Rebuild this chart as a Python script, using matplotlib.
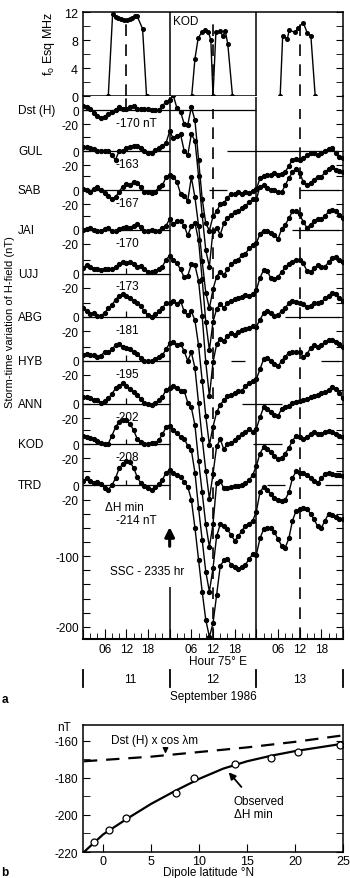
import numpy as np
import matplotlib.pyplot as plt

plt.rcParams['font.family'] = ['Liberation Sans', 'DejaVu Sans']
plt.rcParams['axes.unicode_minus'] = False

# ---------------- data ----------------
# foEsq at KOD (hour from 00 h on 11 Sept, MHz)
fo_h11 = [7.0, 8.2, 9.0, 9.8, 10.6, 11.4, 12.2, 13.0, 13.7, 14.4, 15.0, 16.5, 17.6]
fo_v11 = [0, 11.7, 11.3, 11.2, 11.0, 10.9, 10.9, 11.0, 11.2, 11.4, 11.4, 9.6, 0]
fo_h12 = [30.1, 31.0, 31.9, 32.9, 33.8, 34.7, 35.4, 36.0, 36.8, 37.9, 38.7, 39.4, 40.1, 41.4]
fo_v12 = [0, 5.3, 8.3, 9.1, 9.4, 9.2, 8.0, 0, 9.1, 9.3, 8.6, 9.3, 7.4, 0]
fo_h13 = [54.6, 55.3, 56.6, 57.1, 58.7, 59.6, 61.0, 62.1, 63.1, 64.3]
fo_v13 = [0, 8.6, 8.2, 9.4, 9.1, 9.7, 10.5, 9.0, 8.6, 0]

# storm-time H variation (nT), hourly 11 Sept 00 h .. 14 Sept 00 h
stations = ['Dst (H)', 'GUL', 'SAB', 'JAI', 'UJJ', 'ABG', 'HYB', 'ANN', 'KOD', 'TRD']
min_labels = ['-170 nT', '-163', '-167', '-170', '-173', '-181', '-195', '-202', '-208', '']

dst = [6, 5, 2, -4, -8, -11, -9, -5, -2, 0, 4, 2, 2, 4, 6, 1, 1, 2, 1, 0, 0, 0, 6, 12,
       14, 21, 3, -2, -19, -21, 4, -14, -70, -125, -160, -170,
       -150, -143, -133, -131, -124, -118, -119, -116, -118, -116, -117, -114,
       -112, -96, -93, -92, -92, -89, -91, -90, -87, -79, -70, -69,
       -70, -68, -64, -60, -61, -63, -61, -58, -55, -54, -60, -66, -68]
gul = [6, 6, 5, 3, 1, 1, 1, 0, -6, -12, 0, 1, 4, 6, 8, 8, 5, 1, -2, -2, 2, 4, 7, 12,
       28, 18, 22, 24, 1, -6, 24, 15, -35, -90, -140, -163,
       -112, -108, -118, -102, -94, -90, -86, -85, -80, -77, -72, -68,
       -68, -50, -48, -52, -55, -55, -58, -58, -48, -38, -30, -25,
       -31, -43, -48, -45, -40, -36, -36, -30, -25, -22, -26, -28, -29]
sab = [2, 0, -2, 2, 5, 0, -4, -8, -13, -10, -2, 5, 8, 7, 12, 10, 4, -2, -3, -4, -2, 4, 7, 18,
       22, 19, 12, -5, -8, -15, 18, -10, -50, -100, -145, -167,
       -140, -122, -115, -120, -112, -105, -100, -98, -92, -90, -82, -78,
       -75, -62, -57, -58, -61, -63, -69, -55, -49, -40, -30, -30,
       -34, -45, -53, -49, -44, -41, -41, -37, -30, -28, -30, -35, -40]
jai = [0, 1, 2, 0, -2, -1, 1, 2, -1, -2, 1, 3, 4, 3, 6, 8, 4, -1, -2, 0, -1, -1, 2, 6,
       15, 8, 12, 12, 6, -8, 5, 10, -15, -70, -130, -170,
       -130, -112, -105, -110, -104, -100, -98, -96, -95, -92, -94, -90,
       -85, -68, -57, -58, -68, -70, -66, -60, -53, -48, -45, -43,
       -42, -47, -58, -60, -54, -50, -52, -52, -46, -40, -38, -42, -45]
ujj = [8, 12, 9, 6, 7, 5, 6, 7, 6, 9, 14, 17, 15, 16, 14, 9, 11, 7, 3, 2, 4, 6, 10, 20,
       25, 20, 15, 6, -5, -3, 13, 12, -10, -60, -125, -173,
       -125, -100, -92, -95, -88, -84, -86, -82, -80, -78, -76, -74,
       -75, -65, -56, -53, -56, -60, -58, -53, -48, -42, -39, -40,
       -41, -43, -47, -45, -41, -41, -40, -35, -31, -27, -28, -34, -39]
abg = [12, 9, 4, 5, 1, 1, 6, 12, 17, 24, 30, 32, 30, 26, 23, 20, 15, 8, 2, 0, 4, 8, 12, 20,
       20, 22, 18, 23, 8, 2, 8, -5, -40, -90, -140, -181,
       -155, -135, -124, -118, -112, -110, -108, -105, -104, -98, -94, -91,
       -88, -74, -60, -58, -62, -66, -70, -62, -56, -51, -50, -50,
       -50, -56, -53, -44, -40, -43, -40, -36, -33, -32, -35, -39, -42]
hyb = [8, 10, 8, 8, 5, 7, 13, 12, 16, 22, 24, 20, 18, 16, 13, 10, 4, 0, -1, -1, 2, 5, 8, 16,
       25, 26, 22, 24, 14, 0, 12, -10, -60, -110, -155, -195,
       -160, -121, -111, -125, -118, -116, -112, -107, -104, -100, -97, -100,
       -96, -80, -66, -68, -72, -76, -78, -68, -65, -64, -60, -58,
       -57, -55, -54, -51, -50, -48, -46, -44, -41, -37, -40, -46, -53]
ann = [10, 10, 8, 6, 5, 2, 4, 8, 14, 22, 26, 29, 26, 21, 17, 12, 7, 2, 0, -1, 1, 5, 10, 20,
       22, 26, 22, 18, 19, 2, -5, -30, -80, -125, -170, -202,
       -170, -112, -109, -119, -119, -118, -116, -116, -114, -112, -108, -100,
       -88, -70, -61, -63, -68, -74, -78, -76, -70, -62, -52, -45,
       -46, -49, -47, -42, -40, -43, -43, -40, -38, -39, -42, -45, -46]
kod = [12, 11, 9, 7, 4, 2, 0, 1, 12, 24, 32, 35, 34, 29, 20, 8, 3, 0, 0, 2, 2, 6, 14, 24,
       26, 20, 16, 10, 8, -2, -8, -40, -90, -135, -180, -208,
       -175, -130, -113, -115, -120, -128, -136, -130, -122, -115, -112, -108,
       -95, -68, -60, -65, -70, -76, -79, -80, -78, -68, -48, -38,
       -40, -40, -44, -48, -52, -55, -48, -42, -40, -42, -43, -44, -45]
trd = [6, 10, 6, 4, 5, 2, -4, -6, 0, 10, 24, 30, 34, 33, 25, 12, 3, -1, -4, -6, -3, 2, 8, 18,
       22, 17, 15, 12, 5, -2, -20, -60, -105, -150, -190, -214,
       -195, -155, -114, -106, -104, -112, -116, -118, -115, -112, -104, -97,
       -98, -75, -62, -60, -60, -66, -76, -85, -88, -75, -50, -36,
       -34, -32, -33, -40, -48, -58, -60, -50, -40, -42, -45, -47, -48]
series = [dst, gul, sab, jai, ujj, abg, hyb, ann, kod, trd]

# zero-level segments drawn for each station (hours)
zero_segments = [[(0, 48)], [(0, 24), (40, 71)], [(0, 24), (35, 40), (60, 71)],
                 [(0, 24), (58, 71)], [(0, 24)], [(0, 24), (56, 71)],
                 [(0, 24), (41, 45), (66, 71)], [(0, 24), (44, 55)],
                 [(0, 24), (47, 55)], [(0, 24), (51, 56), (67, 71)]]

# panel b: minimum dH versus dipole latitude
lat_obs = [-1.0, 0.6, 2.4, 7.6, 9.5, 13.7, 17.5, 20.3, 24.7]
dh_obs = [-214.6, -208, -201.6, -188, -180, -172.6, -169, -166, -162]
lat_fit = [-2, 0, 2.5, 5, 7.5, 10, 12.5, 15, 17.5, 20, 22.5, 25]
dh_fit = [-220, -210.5, -202, -194, -187, -180.5, -175, -171, -168, -165.5, -163.5, -161.5]
lat_dst = [-2, 5, 10, 15, 20, 25]
dh_dst = [-171, -168.5, -166, -163.5, -160.5, -157]

# ---------------- layout ----------------
W, H = 350, 879
fig = plt.figure(figsize=(W / 100, H / 100), dpi=100)


def box(l, t, r, b):
    return [l / W, 1 - b / H, (r - l) / W, (b - t) / H]


offsets = [530, 472, 417, 361, 299, 238, 176, 115, 58, 0]
dash = (0, (7, 5))
fs = 8.5

# ---- foEsq panel ----
ax_fo = fig.add_axes(box(83, 13, 343, 97))
for hh, vv in [(fo_h11, fo_v11), (fo_h12, fo_v12), (fo_h13, fo_v13)]:
    ax_fo.plot(hh, vv, '-o', color='k', lw=1.0, ms=2.6)
ax_fo.set_xlim(0, 72)
ax_fo.set_ylim(0, 12)
ax_fo.axvline(24, color='k', lw=1.1)
ax_fo.axvline(48, color='k', lw=1.1)
for hx in [12, 36, 60]:
    ax_fo.axvline(hx, ymin=0.0, ymax=0.9, color='k', lw=1.2, ls=dash)
ax_fo.axhline(0, xmin=0, xmax=48 / 72, color='k', lw=1.1)
ax_fo.spines['bottom'].set_visible(False)
for s in ['left', 'right', 'top']:
    ax_fo.spines[s].set_linewidth(1.1)
ax_fo.set_xticks([])
ax_fo.set_yticks([0, 4, 8, 12])
ax_fo.set_yticks([2, 6, 10], minor=True)
ax_fo.tick_params(axis='y', which='both', direction='in', left=True, right=True,
                  length=5, labelsize=9)
ax_fo.set_ylabel('f$_\\mathregular{o}$ Esq MHz', fontsize=9)
ax_fo.yaxis.set_label_coords(-0.10, 0.63)
ax_fo.text(28.3, 10.7, 'KOD', fontsize=fs, ha='center', va='center')

# ---- main storm-time panel ----
ax = fig.add_axes(box(83, 97, 343, 640))
hours = np.arange(len(dst))
for vals, off, segs in zip(series, offsets, zero_segments):
    ax.plot(hours, np.array(vals) + off, '-o', color='k', lw=1.0, ms=2.8)
    for a, b in segs:
        ax.hlines(off, a, b, color='k', lw=0.9)
    if off < 300:
        ax.vlines(12, off, off + 8, color='k', lw=0.9)
ax.set_xlim(0, 72)
ax.set_ylim(-217, 548)

ax.vlines(48, -217, 548, color='k', lw=1.1)
ax.vlines(24, -20, 548, color='k', lw=1.1)
ax.vlines(24, -217, -143, color='k', lw=1.1)
ax.vlines([36, 60], -217, 532, color='k', lw=1.2, linestyles=[dash])
ax.vlines(12, 530, 548, color='k', lw=1.2, linestyles=[dash])

ax.spines['top'].set_visible(False)
for s in ['left', 'right']:
    ax.spines[s].set_linewidth(1.1)
ax.spines['bottom'].set_linewidth(1.5)

ytk, ylb = [], []
for off in offsets:
    ytk += [off + 20, off, off - 20]
    ylb += ['', '0', '-20']
for v in range(-40, -201, -20):
    ytk.append(v)
    ylb.append(str(v) if v in (-100, -200) else '')
ax.set_yticks(ytk, ylb)
ax.tick_params(axis='y', direction='in', left=True, right=True, length=5, labelsize=fs, pad=3)

xt = list(range(0, 73, 6))
ax.set_xticks(xt, ['' if h % 24 == 0 else '%02d' % (h % 24) for h in xt])
ax.set_xticks(range(0, 73, 2), minor=True)
ax.tick_params(axis='x', which='major', direction='in', length=7, labelsize=fs, pad=3)
ax.tick_params(axis='x', which='minor', direction='in', length=4)

ytr = ax.get_yaxis_transform()
for name, off, lab in zip(stations, offsets, min_labels):
    ax.text(-0.25, off, name, transform=ytr, fontsize=fs, ha='left', va='center')
    if lab:
        ax.text(9.1, off - 18, lab, fontsize=fs, ha='left', va='center')
ax.text(6.1, -31, '\u0394H min', fontsize=fs, ha='left', va='center')
ax.text(9.1, -49, '-214 nT', fontsize=fs, ha='left', va='center')
ax.text(7.5, -121, 'SSC - 2335 hr', fontsize=fs, ha='left', va='center')
ax.annotate('', xy=(24, -55), xytext=(24, -90),
            arrowprops=dict(arrowstyle='-|>', color='k', lw=2.2, mutation_scale=14))

xtr = ax.get_xaxis_transform()
ax.text(37.4, -0.0405, 'Hour 75\u00b0 E', transform=xtr, fontsize=fs, ha='center', va='center')
for d, hx in zip(['11', '12', '13'], [13, 36, 60]):
    ax.text(hx, -0.0737, d, transform=xtr, fontsize=fs, ha='center', va='center')
for hx in [0, 24, 48, 72]:
    ax.plot([hx, hx], [-0.058, -0.088], transform=xtr, color='k', lw=1.3, clip_on=False)
ax.text(36, -0.105, 'September 1986', transform=xtr, fontsize=fs, ha='center', va='center')

fig.text(10 / W, 1 - 322 / H, 'Storm-time variation of H-field (nT)', rotation=90,
         fontsize=8, ha='center', va='center')
fig.text(5 / W, 1 - 700 / H, 'a', fontsize=8.5, weight='bold', ha='center', va='center')

# ---- panel b ----
axb = fig.add_axes(box(83, 726, 343, 853))
axb.plot(lat_fit, dh_fit, color='k', lw=1.6)
axb.plot(lat_dst, dh_dst, color='k', lw=1.6, ls=(0, (6, 4)))
axb.plot(lat_obs, dh_obs, 'o', mfc='white', mec='k', ms=5, mew=0.9)
axb.set_xlim(-2.1, 25.0)
axb.set_ylim(-220, -151.4)
axb.set_xticks([0, 5, 10, 15, 20, 25])
axb.set_yticks([-220, -200, -180, -160])
axb.set_yticks([-210, -190, -170], minor=True)
axb.tick_params(axis='x', direction='in', length=6, labelsize=9, pad=2)
axb.tick_params(axis='y', which='both', direction='in', left=True, right=True,
                length=5, labelsize=fs)
for s in axb.spines.values():
    s.set_linewidth(1.1)
axb.text(0.8, -159.5, 'Dst (H) x cos \u03bbm', fontsize=fs, ha='left', va='center')
axb.annotate('', xy=(6.5, -168.4), xytext=(6.5, -162.5),
             arrowprops=dict(arrowstyle='-|>', color='k', lw=1.0, mutation_scale=8))
axb.text(13.6, -196, 'Observed\n\u0394H min', fontsize=fs, ha='left', va='center',
         linespacing=1.2)
axb.annotate('', xy=(12.9, -175.8), xytext=(14.6, -186),
             arrowprops=dict(arrowstyle='-|>', color='k', lw=1.3, mutation_scale=10))
fig.text(64 / W, 1 - 728 / H, 'nT', fontsize=fs, ha='center', va='center')
fig.text(209 / W, 1 - 873 / H, 'Dipole latitude \u00b0N', fontsize=8.5, ha='center', va='center')
fig.text(5 / W, 1 - 873 / H, 'b', fontsize=8.5, weight='bold', ha='center', va='center')

fig.savefig('out.png', dpi=100)
